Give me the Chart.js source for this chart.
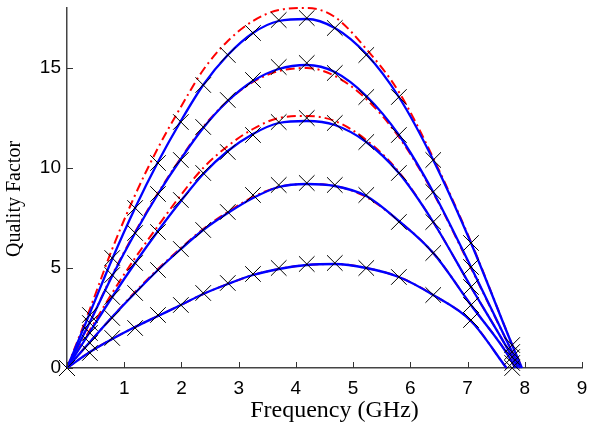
<!DOCTYPE html>
<html>
<head>
<meta charset="utf-8">
<script src="https://cdn.jsdelivr.net/npm/chart.js@4.4.1/dist/chart.umd.min.js"></script>
<style>
  html, body { margin: 0; padding: 0; background: #fff; }
  #wrap { width: 590px; height: 430px; }
</style>
</head>
<body>
<div id="wrap"><canvas id="c" width="590" height="430"></canvas></div>
<script>
// ---- data ----
const freqs = [0, 0.40, 0.79, 1.19, 1.59, 1.99, 2.38, 2.81, 3.25, 3.70, 4.19, 4.68, 5.23, 5.80, 6.40, 7.06, 7.78];

// measured points (black crosses)
const meas1 = [0, 2.65, 5.5, 8.0, 10.25, 12.3, 14.15, 15.65, 16.75, 17.4, 17.5, 17.0, 15.65, 13.55, 10.4, 6.25, 1.15];
const meas2 = [0, 2.25, 4.65, 6.75, 8.7, 10.4, 12.05, 13.4, 14.4, 15.05, 15.25, 14.75, 13.55, 11.65, 8.8, 5.05, 0.8];
const meas3 = [0, 1.75, 3.55, 5.25, 6.8, 8.4, 9.75, 10.8, 11.65, 12.3, 12.5, 12.25, 11.3, 9.75, 7.3, 4.05, 0.55];
const meas4 = [0, 1.25, 2.5, 3.75, 4.9, 5.95, 6.9, 7.8, 8.65, 9.15, 9.25, 9.15, 8.65, 7.3, 5.75, 3.15, 0.25];
const meas5 = [0, 0.75, 1.5, 2.0, 2.65, 3.15, 3.75, 4.25, 4.7, 5.0, 5.2, 5.25, 5.0, 4.55, 3.65, 2.4, 0.0];

// blue solid curves
const blue1 = [0, 2.75, 5.45, 8.0, 10.3, 12.35, 14.15, 15.65, 16.75, 17.35, 17.45, 17.0, 15.7, 13.55, 10.4, 6.25, 1.15];
const blue2 = [0, 2.3, 4.6, 6.75, 8.7, 10.45, 12.0, 13.35, 14.35, 14.95, 15.15, 14.8, 13.6, 11.65, 8.8, 5.05, 0.8];
const blue3 = [0, 1.8, 3.55, 5.25, 6.85, 8.35, 9.7, 10.85, 11.7, 12.25, 12.35, 12.15, 11.3, 9.75, 7.3, 4.05, 0.55];
const blue4 = [0, 1.3, 2.55, 3.75, 4.9, 5.95, 6.9, 7.75, 8.5, 9.05, 9.2, 9.1, 8.6, 7.35, 5.75, 3.15, 0.3];
const blue5 = [0, 0.8, 1.45, 2.05, 2.6, 3.15, 3.7, 4.2, 4.65, 4.95, 5.15, 5.2, 5.0, 4.55, 3.65, 2.35];

// red dash-dot curves
const red1 = [0, 2.95, 5.95, 8.65, 11.0, 13.05, 14.9, 16.35, 17.35, 17.9, 18.0, 17.55, 15.95, 13.8, 10.5, 6.3, 1.15];
const red2 = [0, 2.3, 4.65, 6.8, 8.75, 10.5, 12.05, 13.35, 14.3, 14.85, 15.0, 14.6, 13.45, 11.55, 8.75, 5.0, 0.8];
const red3 = [0, 1.9, 3.75, 5.5, 7.1, 8.65, 10.0, 11.1, 11.95, 12.5, 12.6, 12.35, 11.4, 9.8, 7.3, 4.05, 0.55];
const red4 = [0, 1.3, 2.55, 3.8, 4.95, 6.0, 6.95, 7.8, 8.55, 9.05, 9.2, 9.1, 8.55, 7.35, 5.75, 3.15, 0.3];
const red5 = [0, 0.8, 1.45, 2.05, 2.6, 3.15, 3.7, 4.2, 4.65, 4.95, 5.15, 5.2, 5.0, 4.55, 3.65, 2.35];

// frequency where each curve returns to zero
const zeroFreq = [7.95, 7.92, 7.88, 7.83, 7.68];

const xTicks = [1, 2, 3, 4, 5, 6, 7, 8, 9];
const yTicks = [0, 5, 10, 15];
const xTitle = 'Frequency (GHz)';
const yTitle = 'Quality Factor';

// ---- build datasets ----
function curve(vals, zero) {
  const pts = [];
  freqs.forEach((f, i) => {
    if (vals[i] !== undefined && f < zero) pts.push({ x: f, y: vals[i] });
  });
  pts.push({ x: zero, y: 0 });
  return pts;
}
function points(vals) {
  return freqs.map((f, i) => ({ x: f, y: vals[i] }));
}

const blues = [blue1, blue2, blue3, blue4, blue5];
const reds = [red1, red2, red3, red4, red5];
const meas = [meas1, meas2, meas3, meas4, meas5];

const datasets = [];
meas.forEach(m => datasets.push({
  data: points(m), showLine: false, order: 0,
  pointStyle: 'crossRot', pointRadius: 11, pointBorderColor: '#000',
  pointBorderWidth: 1, pointBackgroundColor: 'transparent', clip: false
}));
blues.forEach((b, i) => datasets.push({
  data: curve(b, zeroFreq[i]), showLine: true, order: 1,
  borderColor: '#0000ff', borderWidth: 2.3, pointRadius: 0,
  cubicInterpolationMode: 'monotone', clip: false
}));
reds.forEach((r, i) => datasets.push({
  data: curve(r, zeroFreq[i]), showLine: true, order: 2,
  borderColor: '#ff0000', borderWidth: 2, borderDash: [9, 4, 2, 4], pointRadius: 0,
  cubicInterpolationMode: 'monotone', clip: false
}));

// inward tick marks and axis titles (placed relative to the chart area)
const axisDecor = {
  id: 'axisDecor',
  afterDatasetsDraw(chart) {
    const { ctx, chartArea: a, scales: { x, y } } = chart;
    ctx.save();
    ctx.strokeStyle = '#333';
    ctx.lineWidth = 1;
    ctx.beginPath();
    x.ticks.forEach(t => {
      const px = Math.round(x.getPixelForValue(t.value)) + 0.5;
      ctx.moveTo(px, a.bottom); ctx.lineTo(px, a.bottom - 6);
    });
    y.ticks.forEach(t => {
      const py = Math.round(y.getPixelForValue(t.value)) + 0.5;
      ctx.moveTo(a.left, py); ctx.lineTo(a.left + 6, py);
    });
    ctx.stroke();
    ctx.restore();
  },
  afterDraw(chart) {
    const { ctx, chartArea: a } = chart;
    ctx.save();
    ctx.fillStyle = '#000';
    ctx.textAlign = 'center';
    ctx.textBaseline = 'middle';
    ctx.font = '24px "Liberation Serif"';
    ctx.fillText(xTitle, (a.left + a.right) / 2 + 10, a.bottom + 43);
    ctx.translate(15, (a.top + a.bottom) / 2 + 11);
    ctx.rotate(-Math.PI / 2);
    ctx.font = '20px "Liberation Serif"';
    ctx.fillText(yTitle, 0, 0);
    ctx.restore();
  }
};

function noPad(s) { s.paddingTop = 0; s.paddingBottom = 0; s.paddingLeft = 0; s.paddingRight = 0; }

new Chart(document.getElementById('c'), {
  type: 'scatter',
  data: { datasets },
  options: {
    responsive: false,
    animation: false,
    layout: { autoPadding: false, padding: { left: 0, right: 8, top: 8, bottom: 0 } },
    plugins: { legend: { display: false }, tooltip: { enabled: false } },
    scales: {
      x: {
        type: 'linear', min: 0, max: 9,
        afterFit: s => { s.height = 62; noPad(s); },
        afterBuildTicks: s => { s.ticks = [0].concat(xTicks).map(v => ({ value: v })); },
        grid: { display: false, drawTicks: false },
        border: { display: true, color: '#444', width: 1.5 },
        ticks: {
          padding: 9, color: '#000',
          font: { family: 'Liberation Sans', size: 19 },
          callback: v => (xTicks.includes(v) ? String(v) : '')
        },
        title: { display: false, text: xTitle }
      },
      y: {
        type: 'linear', min: 0, max: 18,
        afterFit: s => { s.width = 67; noPad(s); },
        afterBuildTicks: s => { s.ticks = yTicks.map(v => ({ value: v })); },
        grid: { display: false, drawTicks: false },
        border: { display: true, color: '#444', width: 1.5 },
        ticks: {
          padding: 6, color: '#000',
          font: { family: 'Liberation Sans', size: 19 }
        },
        title: { display: false, text: yTitle }
      }
    }
  },
  plugins: [axisDecor]
});
</script>
</body>
</html>
